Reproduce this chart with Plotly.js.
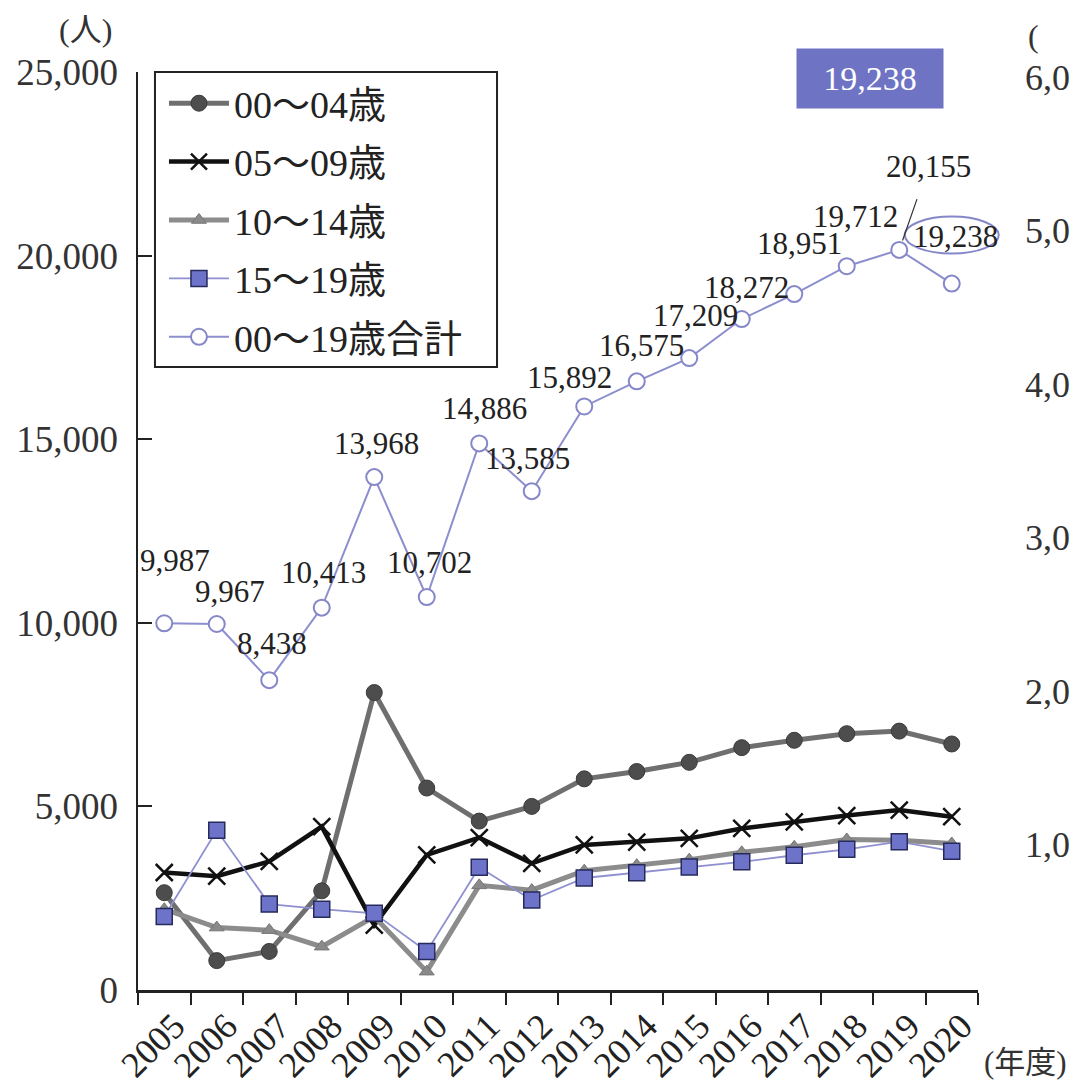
<!DOCTYPE html>
<html>
<head>
<meta charset="utf-8">
<script src="https://cdn.plot.ly/plotly-3.0.1.min.js"></script>
<style>
  html, body { margin: 0; padding: 0; background: #ffffff; }
  #chart { width: 1073px; height: 1086px; }
</style>
</head>
<body>
<div id="chart"></div>
<script>
// ---- data ----
const years = ['2005','2006','2007','2008','2009','2010','2011','2012','2013','2014','2015','2016','2017','2018','2019','2020'];
const age00_04 = [2650, 800, 1050, 2700, 8100, 5500, 4600, 5000, 5750, 5950, 6200, 6600, 6800, 6980, 7050, 6700];
const age05_09 = [3200, 3100, 3500, 4450, 1770, 3680, 4150, 3450, 3950, 4030, 4130, 4400, 4580, 4750, 4900, 4720];
const age10_14 = [2200, 1700, 1630, 1180, 2000, 500, 2850, 2720, 3250, 3400, 3550, 3750, 3900, 4100, 4080, 3990];
const age15_19 = [2000, 4350, 2340, 2200, 2090, 1050, 3340, 2450, 3050, 3190, 3350, 3490, 3670, 3830, 4040, 3780];
const total00_19 = [9987, 9967, 8438, 10413, 13968, 10702, 14886, 13585, 15892, 16575, 17209, 18272, 18951, 19712, 20155, 19238];
const seriesNames = ['00〜04歳', '05〜09歳', '10〜14歳', '15〜19歳', '00〜19歳合計'];
const yTicks = [0, 5000, 10000, 15000, 20000, 25000];
// neighbouring chart's axis labels, as far as they are visible at the cut edge
const rightAxisTicks = ['6,0', '5,0', '4,0', '3,0', '2,0', '1,0'];

// ---- styling ----
const SERIF = '"Liberation Serif", "Times New Roman", serif';
const JP = '"Liberation Serif", "Noto Sans CJK JP", serif';
const fmt = v => v.toLocaleString('en-US');
const xRange = [-0.5, years.length - 0.5];
const yRange = [0, 25000];

// label offsets (px) for total labels: [dx, dy]  (dy positive = up)
const labelOffsets = [[11,63],[13,33],[3,37],[2,35],[2,34],[3,35],[5,35],[-4,33],[-15,29],[5,36],[6,43],[5,32],[5,51],[9,50],[29,83],[4,47]];

const traces = [
  { name: seriesNames[0], x: years, y: age00_04, type: 'scatter', mode: 'lines+markers', legendgroup: 'g0',
    line: { color: '#6f6f6f', width: 5 },
    marker: { symbol: 'circle', size: 16, color: '#4d4d4d', line: { color: '#3a3a3a', width: 1 } } },
  { name: seriesNames[1], x: years, y: age05_09, type: 'scatter', mode: 'lines+markers', legendgroup: 'g1',
    line: { color: '#111111', width: 4.5 },
    marker: { symbol: 'x-thin', size: 17, color: '#111111', line: { color: '#111111', width: 2.5 } } },
  { name: seriesNames[2], x: years, y: age10_14, type: 'scatter', mode: 'lines+markers', legendgroup: 'g2',
    line: { color: '#8c8c8c', width: 5 },
    marker: { symbol: 'triangle-up', size: 13, color: '#8a8a8a', line: { color: '#777', width: 1 } } },
  { name: seriesNames[3], x: years, y: age15_19, type: 'scatter', mode: 'lines+markers', legendgroup: 'g3',
    line: { color: '#8f90d0', width: 1.8 },
    marker: { symbol: 'square', size: 16, color: '#6c73c8', line: { color: '#262a5c', width: 1.5 } } },
  { name: seriesNames[4], x: years, y: total00_19, type: 'scatter', mode: 'lines+markers', legendgroup: 'g4',
    line: { color: '#8c8ecf', width: 2 },
    marker: { symbol: 'circle', size: 16, color: '#ffffff', line: { color: '#8587c8', width: 2 } } }
];

const annotations = total00_19.map((v, i) => ({
  x: i, y: v, xref: 'x', yref: 'y', text: fmt(v),
  showarrow: false, xshift: labelOffsets[i][0], yshift: labelOffsets[i][1],
  xanchor: 'center', yanchor: 'middle',
  font: { family: SERIF, size: 31, color: '#222222' }
}));
// leader line for the 2019 label
Object.assign(annotations[14], {
  showarrow: true, xshift: 0, yshift: 0,
  ax: labelOffsets[14][0], ay: -labelOffsets[14][1],
  arrowhead: 0, arrowwidth: 1.2, arrowcolor: '#333333',
  standoff: 10, startstandoff: 14
});

// highlighted latest value box
const lastIdx = total00_19.length - 1;
const last = total00_19[lastIdx];
annotations.push({
  xref: 'paper', yref: 'paper', x: 0.871, y: 0.993, xanchor: 'center', yanchor: 'middle',
  text: fmt(last), showarrow: false, bgcolor: '#6e73c4', width: 144, height: 57,
  font: { family: SERIF, size: 34, color: '#ffffff' }
});
// axis unit labels
annotations.push({ xref: 'paper', yref: 'paper', x: -0.062, y: 1.046, xanchor: 'center', yanchor: 'middle',
  text: '(人)', showarrow: false, font: { family: JP, size: 32, color: '#333333' } });
annotations.push({ xref: 'paper', yref: 'paper', x: 1.057, y: -0.0795, xanchor: 'center', yanchor: 'middle',
  text: '(年度)', showarrow: false, font: { family: JP, size: 31, color: '#333333' } });
// neighbouring chart's axis (cut off at the edge)
annotations.push({ xref: 'paper', yref: 'paper', x: (1026 - 138) / 840, y: (990 - 36) / 918, xanchor: 'left', yanchor: 'middle',
  text: '(', showarrow: false, font: { family: JP, size: 32, color: '#333333' } });
rightAxisTicks.forEach((t, k) => {
  annotations.push({ xref: 'paper', yref: 'paper', x: (1072 - 138) / 840, y: (990 - (78 + 153.4 * k)) / 918,
    xanchor: 'right', yanchor: 'middle', text: t, showarrow: false,
    font: { family: SERIF, size: 36, color: '#333333' } });
});

const shapes = [
  // legend frame (white box behind the legend entries)
  { type: 'rect', xref: 'paper', yref: 'paper', x0: 0.0202, x1: 0.4274, y0: 0.6787, y1: 1.0,
    line: { color: '#222222', width: 2 }, fillcolor: '#ffffff', layer: 'above' },
  // ellipse round the latest value label (anchored on the latest point; paper refs so it is not clipped)
  { type: 'circle', xref: 'paper', yref: 'paper', xsizemode: 'pixel', ysizemode: 'pixel',
    xanchor: (lastIdx - xRange[0]) / (xRange[1] - xRange[0]),
    yanchor: (last - yRange[0]) / (yRange[1] - yRange[0]),
    x0: -47, x1: 47, y0: 30, y1: 67,
    line: { color: '#8587c8', width: 2 }, fillcolor: 'rgba(0,0,0,0)' }
];

const layout = {
  width: 1073, height: 1086,
  margin: { l: 138, r: 95, t: 72, b: 96 },
  paper_bgcolor: '#ffffff', plot_bgcolor: '#ffffff',
  showlegend: true,
  legend: {
    x: 0.0202, y: 1, xanchor: 'left', yanchor: 'top',
    bgcolor: 'rgba(0,0,0,0)', borderwidth: 0,
    font: { family: JP, size: 38, color: '#222222' },
    itemwidth: 60, tracegroupgap: 6, traceorder: 'grouped',
    indentation: 9
  },
  xaxis: {
    type: 'category', range: xRange, showgrid: false, zeroline: false,
    showline: true, linecolor: '#222222', linewidth: 2.5,
    ticks: 'outside', tickson: 'boundaries', ticklen: 12, tickwidth: 2, tickcolor: '#222222',
    tickangle: -45, ticklabelshift: 10, ticklabelstandoff: -2,
    tickfont: { family: SERIF, size: 36, color: '#222222' }
  },
  yaxis: {
    range: yRange, showgrid: false, zeroline: false,
    showline: true, linecolor: '#222222', linewidth: 2.5,
    ticks: 'inside', ticklen: 14, tickwidth: 2, tickcolor: '#222222',
    tickvals: yTicks, ticktext: yTicks.map(fmt), ticklabelstandoff: 10,
    tickfont: { family: SERIF, size: 37, color: '#333333' }
  },
  annotations: annotations,
  shapes: shapes
};

Plotly.newPlot('chart', traces, layout, { displayModeBar: false, staticPlot: true });
</script>
</body>
</html>
